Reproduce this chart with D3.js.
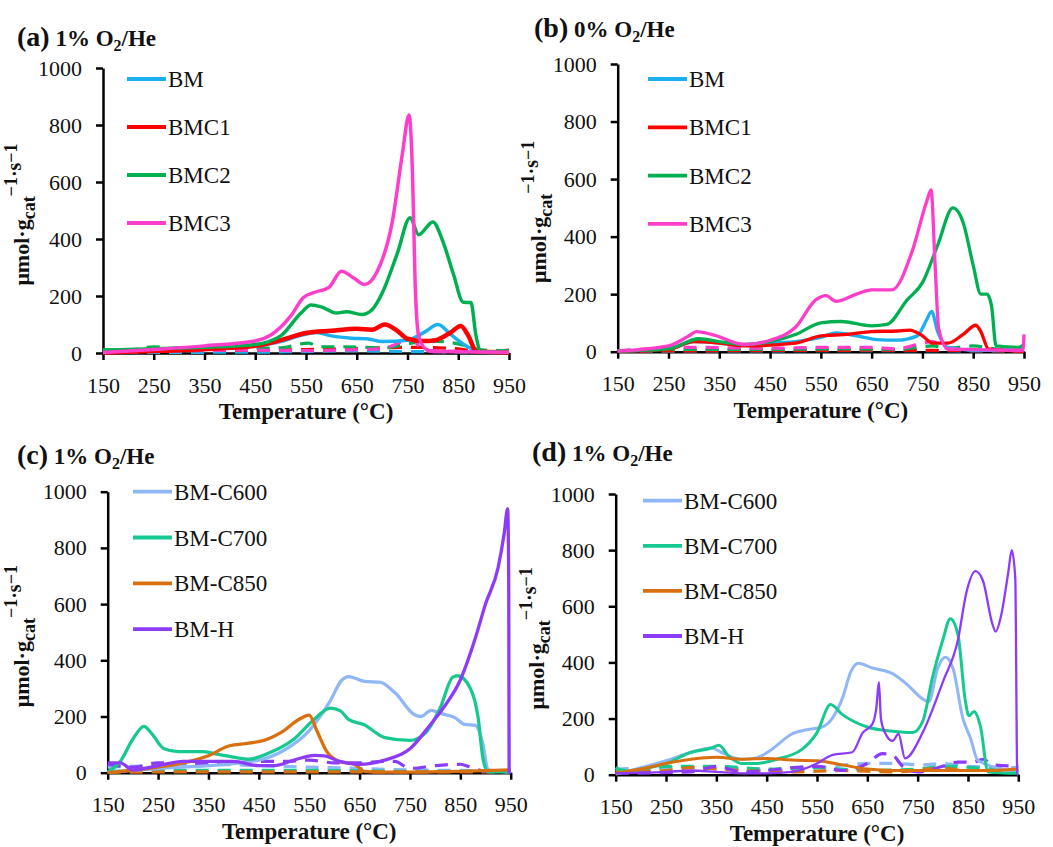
<!DOCTYPE html>
<html lang="en">
<head>
  <meta charset="UTF-8" />
  <title>TPO profiles</title>
  <style>
    html, body { margin: 0; padding: 0; background: #fff; }
    svg { display: block; }
    text { font-family: "Liberation Serif", "Times New Roman", serif; fill: #111; }
    .domain, .tick line { stroke: #000; stroke-width: 2.5px; }
  </style>
</head>
<body>
  <svg width="1053" height="847"></svg>
  <script src="https://d3js.org/d3.v7.min.js"></script>
  <script>
    // x and y ticks shared by all four panels
    const xTicks = [150, 250, 350, 450, 550, 650, 750, 850, 950];
    const yTicks = [0, 200, 400, 600, 800, 1000];

    // (a) 1% O2/He — solid and dashed profiles, [temperature, value]
    const aBM = [[150,3],[250,8],[350,15],[450,25],[500,40],[540,62],[570,72],[600,60],[640,52],[670,50],[700,40],[750,45],[785,75],[810,100],[835,65],[870,20],[900,3],[950,2]];
    const aBMC1 = [[150,2],[300,10],[400,18],[450,25],[500,45],[550,70],[600,78],[650,85],[680,82],[705,100],[730,78],[750,50],[780,42],[805,45],[835,72],[855,95],[870,60],[886,5],[950,2]];
    const aBMC2 = [[150,10],[250,15],[350,20],[450,30],[500,60],[540,140],[560,168],[580,162],[610,140],[630,145],[660,135],[680,152],[700,210],[730,350],[755,475],[772,415],[800,460],[820,390],[840,280],[860,178],[875,177],[885,60],[895,5],[950,3]];
    const aBMC3 = [[150,2],[250,12],[350,25],[450,42],[480,62],[520,130],[545,195],[565,212],[595,230],[620,287],[645,262],[665,240],[690,285],[720,460],[740,700],[753,835],[760,620],[765,250],[772,60],[785,15],[800,5],[950,3]];
    const aBMd = [[150,2],[450,3],[550,5],[650,8],[750,5],[850,4],[950,2]];
    const aBMC1d = [[150,3],[300,8],[450,10],[550,12],[650,15],[750,20],[850,15],[890,3],[950,10]];
    const aBMC2d = [[150,12],[200,10],[250,22],[300,12],[400,15],[500,18],[555,35],[575,22],[620,22],[700,18],[760,35],[800,42],[850,32],[900,10],[950,8]];
    const aBMC3d = [[150,3],[300,8],[450,10],[550,8],[650,12],[700,15],[740,40],[760,48],[780,10],[950,3]];

    // (b) 0% O2/He
    const bBM = [[150,2],[250,10],[300,35],[350,30],[400,22],[450,30],[500,35],[550,50],[580,65],[620,55],[660,42],[700,40],[740,55],[758,110],[768,140],[780,70],[800,15],[850,5],[950,5]];
    const bBMC1 = [[150,2],[250,8],[300,35],[350,30],[400,20],[500,30],[550,55],[600,60],[650,70],[700,72],[725,75],[750,55],[770,30],[800,30],[830,60],[855,92],[865,70],[880,10],[950,2]];
    const bBMC2 = [[150,3],[250,10],[310,45],[350,35],[400,25],[450,35],[500,60],[550,100],[590,105],[650,90],[680,95],[720,180],[750,240],[780,370],[810,500],[830,450],[850,300],[865,200],[877,200],[886,160],[895,20],[940,15],[950,25]];
    const bBMC3 = [[150,2],[250,20],[290,55],[305,70],[335,60],[400,25],[450,40],[500,85],[540,180],[560,195],[580,175],[620,200],[650,215],[690,215],[730,350],[758,520],[767,562],[775,300],[782,80],[800,10],[948,5],[950,60]];
    const bBMd = [[150,2],[450,3],[650,4],[950,2]];
    const bBMC1d = [[150,2],[450,4],[650,5],[850,4],[950,2]];
    const bBMC2d = [[150,3],[300,8],[450,8],[600,10],[700,8],[770,20],[800,12],[850,20],[900,8],[950,5]];
    const bBMC3d = [[150,3],[300,15],[450,12],[550,15],[650,15],[700,10],[740,25],[770,35],[800,10],[950,3]];

    // (c) 1% O2/He, calcined / H series
    const cC600 = [[150,2],[250,15],[350,25],[450,45],[500,80],[550,150],[590,250],[615,330],[628,342],[660,325],[690,322],[720,285],[760,205],[772,200],[792,222],[812,210],[840,195],[858,172],[880,168],[895,100],[905,10],[950,2]];
    const cC700 = [[150,2],[175,40],[200,120],[222,165],[237,140],[262,85],[290,75],[340,75],[370,65],[400,55],[430,48],[470,70],[520,120],[560,190],[592,230],[612,220],[628,190],[660,170],[700,125],[750,115],[780,140],[810,230],[835,340],[845,345],[870,300],[885,200],[895,50],[905,3],[950,3]];
    const cC850 = [[150,0],[250,20],[300,35],[350,60],[390,95],[430,105],[460,115],[500,150],[530,190],[550,205],[565,150],[585,75],[610,40],[640,30],[660,5],[700,2],[850,5],[950,10]];
    const cH = [[150,35],[175,35],[200,10],[250,25],[300,40],[350,40],[400,40],[450,25],[480,25],[520,45],[560,62],[580,60],[610,40],[650,30],[700,45],[750,85],[790,170],[820,240],[850,330],[880,480],[900,600],[925,730],[937,850],[944,940],[946,700],[947,0],[950,0]];
    const cC600d = [[150,20],[250,25],[350,30],[450,25],[550,20],[650,15],[750,10],[850,8],[950,5]];
    const cC700d = [[150,5],[350,8],[550,8],[750,5],[950,5]];
    const cC850d = [[150,2],[450,3],[750,3],[950,3]];
    const cHd = [[150,30],[200,20],[250,35],[300,35],[350,30],[400,35],[450,40],[500,40],[550,45],[600,35],[650,35],[700,40],[720,40],[750,15],[800,25],[850,30],[870,20],[900,5],[950,5]];

    // (d) 1% O2/He, second run
    const dC600 = [[150,2],[250,50],[300,80],[340,95],[360,80],[400,55],[430,60],[460,90],[500,145],[530,160],[560,170],[580,200],[600,270],[618,370],[632,397],[660,380],[700,360],[730,320],[760,270],[772,260],[790,380],[805,418],[820,380],[840,200],[855,130],[870,50],[950,10]];
    const dC700 = [[150,25],[175,10],[200,20],[250,40],[300,80],[340,95],[355,105],[375,65],[400,40],[430,40],[470,55],[520,90],[550,150],[577,250],[600,215],[650,170],[700,155],[740,150],[760,190],[780,350],[800,480],[815,556],[830,500],[845,260],[852,210],[862,225],[875,170],[890,10],[950,5]];
    const dC850 = [[150,5],[200,20],[250,40],[300,55],[350,62],[400,55],[450,58],[500,52],[550,50],[600,35],[650,20],[700,15],[800,15],[850,15],[900,15],[950,20]];
    const dH = [[150,5],[250,10],[300,15],[350,10],[400,5],[450,5],[500,10],[550,40],[580,70],[620,80],[641,150],[660,180],[668,240],[673,330],[677,200],[685,150],[700,120],[712,145],[725,58],[760,150],[800,330],[830,480],[847,650],[865,725],[880,690],[898,540],[905,510],[915,560],[930,720],[937,800],[944,700],[948,0],[950,0]];
    const dC600d = [[150,20],[250,25],[350,25],[450,15],[550,25],[650,40],[700,40],[760,35],[800,40],[850,30],[950,25]];
    const dC700d = [[150,20],[200,10],[250,30],[350,30],[450,20],[550,25],[650,15],[750,20],[800,30],[900,20],[950,15]];
    const dC850d = [[150,10],[250,15],[300,25],[350,20],[400,15],[500,10],[600,15],[700,10],[800,22],[850,15],[950,15]];
    const dHd = [[150,5],[300,10],[350,30],[400,10],[550,30],[600,15],[650,40],[680,75],[700,70],[720,30],[750,10],[800,30],[830,45],[860,45],[880,55],[900,35],[950,30]];

    const namesAB = ['BM', 'BMC1', 'BMC2', 'BMC3'];
    const namesCD = ['BM-C600', 'BM-C700', 'BM-C850', 'BM-H'];
    const colorsAB = ['#1DB0EF', '#FF0000', '#00B050', '#FF3DCB'];
    const colorsCD = ['#8FB6F6', '#17C990', '#D9700F', '#8C3CF9'];

    const panels = [
      { tag: '(a)', gas: '1', tx: 17, ty: 46, x0: 103, x1: 509, y0: 353, y1: 68,
        names: namesAB, colors: colorsAB, widths: [3.5, 4.5, 3.5, 3.5],
        solid: [aBM, aBMC1, aBMC2, aBMC3], dashed: [aBMd, aBMC1d, aBMC2d, aBMC3d],
        legX: 127, legY: 79, legStep: 48, ylabX: 29 },
      { tag: '(b)', gas: '0', tx: 534, ty: 37, x0: 617.7, x1: 1024, y0: 351.7, y1: 64,
        names: namesAB, colors: colorsAB, widths: [3.3, 3.3, 3.3, 3.3],
        solid: [bBM, bBMC1, bBMC2, bBMC3], dashed: [bBMd, bBMC1d, bBMC2d, bBMC3d],
        legX: 648, legY: 79, legStep: 48.3, ylabX: 546 },
      { tag: '(c)', gas: '1', tx: 17, ty: 464, x0: 107.7, x1: 510.7, y0: 772.7, y1: 491.7,
        names: namesCD, colors: colorsCD, widths: [3.3, 3.3, 3.3, 3.3],
        solid: [cC600, cC700, cC850, cH], dashed: [cC600d, cC700d, cC850d, cHd],
        legX: 133, legY: 491.7, legStep: 45.8, ylabX: 29 },
      { tag: '(d)', gas: '1', tx: 532, ty: 461, x0: 615.7, x1: 1018.3, y0: 774.7, y1: 494,
        names: namesCD, colors: colorsCD, widths: [3, 3, 3, 2.3],
        solid: [dC600, dC700, dC850, dH], dashed: [dC600d, dC700d, dC850d, dHd],
        legX: 643, legY: 500.7, legStep: 45.1, ylabX: 544 }
    ];

    const svg = d3.select("svg");
    const serif = '"Liberation Serif", "Times New Roman", serif';

    panels.forEach(p => {
      const g = svg.append("g");
      const x = d3.scaleLinear().domain([150, 950]).range([p.x0, p.x1]);
      const y = d3.scaleLinear().domain([0, 1000]).range([p.y0, p.y1]);

      // title
      const t = g.append("text").attr("x", p.tx).attr("y", p.ty).attr("font-weight", "bold");
      t.append("tspan").attr("font-size", 28).text(p.tag);
      t.append("tspan").attr("font-size", 23).text(" " + p.gas + "% O");
      t.append("tspan").attr("font-size", 16).attr("dy", 5).text("2");
      t.append("tspan").attr("font-size", 23).attr("dy", -5).text("/He");

      // axes
      g.append("g")
        .attr("transform", `translate(0,${p.y0})`)
        .call(d3.axisBottom(x).tickValues(xTicks).tickFormat(d3.format("d"))
          .tickSize(7).tickPadding(17).tickSizeOuter(0))
        .selectAll("text")
        .attr("font-family", serif).attr("font-size", 22).attr("fill", "#111");
      g.append("g")
        .attr("transform", `translate(${p.x0},0)`)
        .call(d3.axisLeft(y).tickValues(yTicks).tickFormat(d3.format("d"))
          .tickSize(7).tickPadding(14).tickSizeOuter(0))
        .selectAll("text")
        .attr("font-family", serif).attr("font-size", 22).attr("fill", "#111");

      // axis titles
      g.append("text")
        .attr("x", (p.x0 + p.x1) / 2).attr("y", p.y0 + 66)
        .attr("text-anchor", "middle").attr("font-weight", "bold").attr("font-size", 23)
        .text("Temperature (°C)");

      const yl = g.append("text")
        .attr("transform", `translate(${p.ylabX},${(p.y0 + p.y1) / 2 + 4}) rotate(-90)`)
        .attr("text-anchor", "middle").attr("font-weight", "bold").attr("font-size", 22);
      yl.append("tspan").text("μmol·g");
      yl.append("tspan").attr("font-size", 18).attr("dy", 6).text("cat");
      yl.append("tspan").attr("font-size", 18).attr("dy", -18).text("−1");
      yl.append("tspan").attr("font-size", 20).attr("dy", 4).text("·s");
      yl.append("tspan").attr("font-size", 18).attr("dy", -4).text("−1");

      const line = d3.line()
        .x(d => x(d[0]))
        .y(d => y(d[1]))
        .curve(d3.curveMonotoneX);

      // dashed profiles under the solid ones
      p.dashed.forEach((s, i) => {
        g.append("path").datum(s)
          .attr("d", line)
          .attr("fill", "none")
          .attr("stroke", p.colors[i])
          .attr("stroke-width", 3.2)
          .attr("stroke-dasharray", "13,9");
      });
      p.solid.forEach((s, i) => {
        g.append("path").datum(s)
          .attr("d", line)
          .attr("fill", "none")
          .attr("stroke", p.colors[i])
          .attr("stroke-width", p.widths[i])
          .attr("stroke-linejoin", "round");
      });

      // legend
      p.names.forEach((n, i) => {
        const ly = p.legY + i * p.legStep;
        g.append("line")
          .attr("x1", p.legX).attr("x2", p.legX + 39)
          .attr("y1", ly).attr("y2", ly)
          .attr("stroke", p.colors[i]).attr("stroke-width", 3.8);
        g.append("text")
          .attr("x", p.legX + 41).attr("y", ly + 8)
          .attr("font-size", 23)
          .text(n);
      });
    });
  </script>
</body>
</html>
